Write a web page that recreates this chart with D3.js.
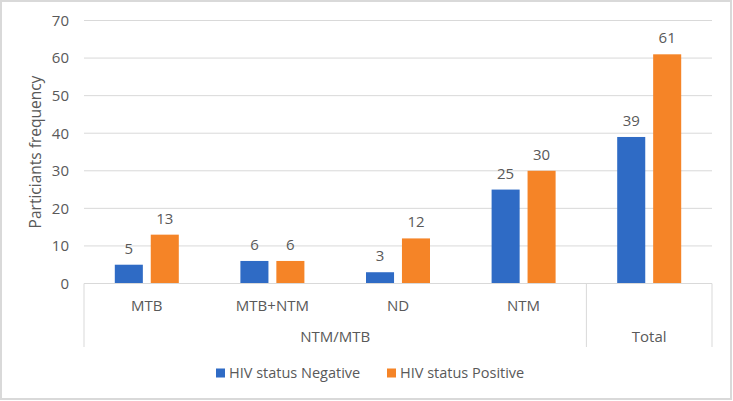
<!DOCTYPE html>
<html><head><meta charset="utf-8">
<script src="https://cdn.jsdelivr.net/npm/d3@7/dist/d3.min.js"></script>
<style>body{margin:0;background:#fff}svg{display:block}text{font-family:"Open Sans",Calibri,sans-serif;fill:#595959}</style>
</head><body>
<script>
const categories = ["MTB", "MTB+NTM", "ND", "NTM", "Total"];
const groupLabels = ["NTM/MTB", "NTM/MTB", "NTM/MTB", "NTM/MTB", ""];
const seriesNames = ["HIV status Negative", "HIV status Positive"];
const negative = [5, 6, 3, 25, 39];
const positive = [13, 6, 12, 30, 61];
const yTicks = [0, 10, 20, 30, 40, 50, 60, 70];
const colors = ["#2f6bc5", "#f58427"];

(function () {
const W = 733, H = 401;
const svg = d3.select("body").append("svg").attr("width", W).attr("height", H);
svg.append("rect").attr("x", 1).attr("y", 1).attr("width", W - 3).attr("height", H - 3)
  .attr("fill", "#fff").attr("stroke", "#d9d9d9").attr("stroke-width", 2);

const pLeft = 84, pRight = 712, pTop = 20.5, pBottom = 283.5;
const x = d3.scaleBand().domain(categories).range([pLeft, pRight]);
const y = d3.scaleLinear().domain([0, 70]).range([pBottom, pTop]);
const inner = d3.scaleBand().domain([0, 1]).range([-32, 32]).paddingInner(0.22);

// gridlines
svg.append("g").selectAll("line").data(yTicks.filter(t => t > 0)).join("line")
  .attr("x1", pLeft).attr("x2", pRight).attr("y1", d => y(d)).attr("y2", d => y(d))
  .attr("stroke", "#d9d9d9").attr("stroke-width", 1);

// y axis labels
const yAxis = svg.append("g").attr("transform", `translate(${pLeft - 15},0)`)
  .call(d3.axisLeft(y).tickValues(yTicks).tickSize(0).tickPadding(0));
yAxis.select(".domain").remove();
yAxis.selectAll("text").attr("font-size", 15).attr("fill", "#595959")
  .style("font-family", '"Open Sans",sans-serif');

svg.append("text").attr("transform", `translate(41,${(pTop + pBottom) / 2}) rotate(-90)`)
  .attr("text-anchor", "middle").attr("font-size", 15.5).text("Particiants frequency");

// bars
const series = [negative, positive];
series.forEach((vals, si) => {
  const g = svg.append("g");
  g.selectAll("rect").data(categories).join("rect")
    .attr("x", c => x(c) + x.bandwidth() / 2 + inner(si))
    .attr("width", inner.bandwidth())
    .attr("y", (c, i) => y(vals[i]))
    .attr("height", (c, i) => pBottom - y(vals[i]))
    .attr("fill", colors[si]);
  g.selectAll("text").data(categories).join("text")
    .attr("x", c => x(c) + x.bandwidth() / 2 + inner(si) + inner.bandwidth() / 2)
    .attr("y", (c, i) => y(vals[i]) - 11)
    .attr("text-anchor", "middle").attr("font-size", 15).attr("fill", "#404040")
    .text((c, i) => vals[i]);
});

// category axis
const axisG = svg.append("g");
axisG.append("line").attr("x1", pLeft).attr("x2", pRight).attr("y1", pBottom).attr("y2", pBottom)
  .attr("stroke", "#d9d9d9");
const sepBottom = 347;
[pLeft, x("Total"), pRight].forEach(px => {
  axisG.append("line").attr("x1", px).attr("x2", px).attr("y1", pBottom).attr("y2", sepBottom)
    .attr("stroke", "#d9d9d9");
});
axisG.selectAll("text.cat").data(categories.slice(0, 4)).join("text").attr("class", "cat")
  .attr("x", c => x(c) + x.bandwidth() / 2).attr("y", 310.5)
  .attr("text-anchor", "middle").attr("font-size", 15).text(c => c);
axisG.append("text").attr("x", (pLeft + x("Total")) / 2).attr("y", 342)
  .attr("text-anchor", "middle").attr("font-size", 15).text(groupLabels[0]);
axisG.append("text").attr("x", x("Total") + x.bandwidth() / 2).attr("y", 342)
  .attr("text-anchor", "middle").attr("font-size", 15).text(categories[4]);

// legend
const legendX = [216, 387];
seriesNames.forEach((n, i) => {
  svg.append("rect").attr("x", legendX[i]).attr("y", 368.5).attr("width", 9).attr("height", 9).attr("fill", colors[i]);
  svg.append("text").attr("x", legendX[i] + 13).attr("y", 378).attr("font-size", 14.5).text(n);
});
})();
</script>
</body></html>
